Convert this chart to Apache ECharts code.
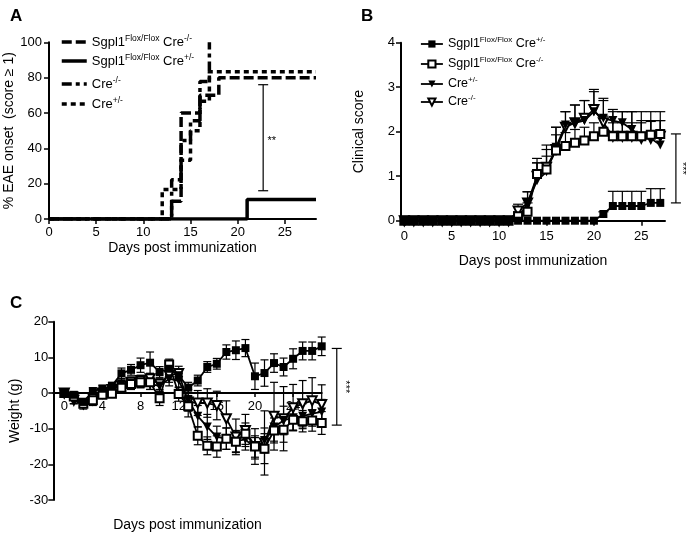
<!DOCTYPE html>
<html><head><meta charset="utf-8">
<script src="https://cdn.jsdelivr.net/npm/echarts@6/dist/echarts.min.js"></script>
<style>html,body{margin:0;padding:0;background:#fff}#chart{width:686px;height:536px}</style>
</head><body><div id="chart"></div>
<script>
const FONT = 'Liberation Sans, Arial, sans-serif';

// ---------- Panel A: % EAE onset (step curves) ----------
const aDaysSgNeg = [0, 13, 14, 16, 18, 28.3];
const aPctSgNeg  = [0, 10, 60, 70, 80, 80];
const aDaysSgPos = [0, 21, 28.3];
const aPctSgPos  = [0, 11.1, 11.1];
const aDaysCreNeg = [0, 13, 14, 15, 16, 17];
const aPctCreNeg  = [0, 22.2, 44.4, 55.6, 77.8, 100];
const aDaysCrePos = [0, 12, 14, 15, 16, 17, 28.3];
const aPctCrePos  = [0, 16.7, 33.3, 50, 66.7, 83.3, 83.3];
const aTicksX = [0, 5, 10, 15, 20, 25];
const aSig = [22.7, 16, 76];
const aSigLabel = '**';

// ---------- Panel B: clinical score ----------
const bDays = [0,1,2,3,4,5,6,7,8,9,10,11,12,13,14,15,16,17,18,19,20,21,22,23,24,25,26,27];
const bSgPos    = [0,0,0,0,0,0,0,0,0,0,0,0,0,0,0,0,0,0,0,0,0,0.15,0.33,0.33,0.33,0.33,0.4,0.4];
const bSgPosErr = [0,0,0,0,0,0,0,0,0,0,0,0,0,0,0,0,0,0,0,0,0,0.05,0.33,0.33,0.33,0.33,0.32,0.32];
const bSgNeg    = [0,0,0,0,0,0,0,0,0,0,0,0,0.1,0.2,1.05,1.15,1.58,1.68,1.75,1.8,1.9,2.0,1.9,1.9,1.9,1.9,1.93,1.95];
const bSgNegErr = [0,0,0,0,0,0,0,0,0,0,0,0,0.1,0.2,0.25,0.3,0.35,0.3,0.3,0.3,0.3,0.35,0.3,0.3,0.3,0.3,0.3,0.3];
const bCrePos    = [0,0,0,0,0,0,0,0,0,0,0,0,0.05,0.4,0.9,1.1,1.65,2.15,2.2,2.25,2.45,2.3,2.25,2.2,2.05,1.9,1.85,1.7];
const bCrePosErr = [0,0,0,0,0,0,0,0,0,0,0,0,0.1,0.25,0.4,0.5,0.45,0.3,0.4,0.45,0.45,0.45,0.25,0.25,0.4,0.35,0.4,0.55];
const bCreNeg    = [0,0,0,0,0,0,0,0,0,0,0,0,0.22,0.4,1.0,1.2,1.6,2.1,2.2,2.3,2.5,2.2,1.9,1.9,1.9,1.85,1.85,1.9];
const bCreNegErr = [0,0,0,0,0,0,0,0,0,0,0,0,0.15,0.25,0.4,0.5,0.5,0.35,0.4,0.4,0.45,0.5,0.55,0.55,0.55,0.6,0.6,0.55];
const bTicksX = [0, 5, 10, 15, 20, 25];
const bSig = [28.65, 0.4, 1.95];
const bSigLabel = '***';

// ---------- Panel C: weight ----------
const cDays = [0,1,2,3,4,5,6,7,8,9,10,11,12,13,14,15,16,17,18,19,20,21,22,23,24,25,26,27];
const cSgPos    = [0,-0.5,-2.5,0.5,1.2,2,5.5,6.5,7.8,8.5,5.9,6.8,5,1.5,3.5,7.3,8.2,11.5,12,12.6,4.7,5.6,8.4,7.3,9.6,11.8,11.8,13.1];
const cSgPosErr = [0.5,0.8,1,1,1,1,1.5,1.5,2,3,1.5,1.5,1.5,1.5,1.5,1.5,1.5,2,2.6,2.4,3.7,3.7,2.6,2.5,2.8,2.5,2.5,2.6];
const cSgNeg    = [0,-1,-3,-2,-0.5,-0.2,1.5,2.5,3,3,-1.5,8,-0.3,-3.7,-12,-14.8,-15,-12.8,-13.7,-11.4,-15,-15.6,-10.5,-10.3,-7.5,-7.9,-7.7,-8.4];
const cSgNegErr = [0.5,1,1,1,1,1,1.5,1.5,1.5,2,2,1.5,2,3,2.5,2.5,3,3,3,3,3,4.2,3.5,3.5,3,3,3,3.2];
const cCrePos    = [0,-2,-3.5,-2.5,0,1,2.5,2.5,3,2.5,2,4,3.5,-2,-6.5,-9.5,-12.3,-12.8,-13.5,-13,-15.5,-13.3,-9.5,-7.7,-6.9,-6.5,-5.8,-5.3];
const cCrePosErr = [0.5,1,1,1,1,1,1.5,1.5,1.5,1.5,1.5,2,2,3,3,3.5,3,3,3,3,3,3.5,4,4,3.5,3.5,3.5,3.5];
const cCreNeg    = [0,-2,-3,-1.5,0,1,2,3,3.5,4,2.5,5,5.5,-2.5,-2.8,-2.8,-3.5,-7.2,-12.3,-10.5,-15,-14,-6.5,-7.2,-4.1,-3,-2.2,-3.2];
const cCreNegErr = [0.5,1,1,1,1,1,1.5,1.5,1.5,1.5,1.5,2,2,2.5,3.5,4,4,5,5,4.5,5,9,9.5,9,6.5,6.5,6.5,5.5];
const cTicksX = [0, 4, 8, 12, 16, 20, 24];
const cSig = [28.58, -9, 12.5];
const cSigLabel = '***';

// ---------- legend labels ----------
const LEG_TEXT = {
  aSgNeg:  '{m|Sgpl1}{s|Flox/Flox}{m| Cre}{s|-/-}',
  aSgPos:  '{m|Sgpl1}{s|Flox/Flox}{m| Cre}{s|+/-}',
  aCreNeg: '{m|Cre}{s|-/-}',
  aCrePos: '{m|Cre}{s|+/-}',
  bSgPos:  '{m|Sgpl1}{s|Flox/Flox}{m| Cre}{s|+/-}',
  bSgNeg:  '{m|Sgpl1}{s|Flox/Flox}{m| Cre}{s|-/-}',
  bCrePos: '{m|Cre}{s|+/-}',
  bCreNeg: '{m|Cre}{s|-/-}'
};

const zip = (xs, ys) => xs.map((x, i) => [x, ys[i]]);
const zip3 = (xs, ys, es) => xs.map((x, i) => [x, ys[i], es[i]]);

function errRender(both, capHalf) {
  return function (params, api) {
    const x = api.value(0), y = api.value(1), e = api.value(2);
    if (!(e > 0)) return null;
    const top = api.coord([x, y + e]);
    const bot = api.coord([x, both ? y - e : y]);
    const st = { stroke: '#000', lineWidth: 1.2 };
    const kids = [
      { type: 'line', shape: { x1: top[0], y1: top[1], x2: bot[0], y2: bot[1] }, style: st },
      { type: 'line', shape: { x1: top[0] - capHalf, y1: top[1], x2: top[0] + capHalf, y2: top[1] }, style: st }
    ];
    if (both) kids.push({ type: 'line', shape: { x1: bot[0] - capHalf, y1: bot[1], x2: bot[0] + capHalf, y2: bot[1] }, style: st });
    return { type: 'group', children: kids };
  };
}

function sigRender(label, rotate, offset) {
  return function (params, api) {
    const x = api.value(0), lo = api.value(1), hi = api.value(2);
    const t = api.coord([x, hi]), b = api.coord([x, lo]);
    const st = { stroke: '#000', lineWidth: 1.2 };
    return { type: 'group', children: [
      { type: 'line', shape: { x1: t[0], y1: t[1], x2: b[0], y2: b[1] }, style: st },
      { type: 'line', shape: { x1: t[0] - 5, y1: t[1], x2: t[0] + 5, y2: t[1] }, style: st },
      { type: 'line', shape: { x1: b[0] - 5, y1: b[1], x2: b[0] + 5, y2: b[1] }, style: st },
      { type: 'text', x: t[0] + offset, y: (t[1] + b[1]) / 2 + (rotate ? 0 : 3), rotation: rotate ? -Math.PI / 2 : 0,
        style: { text: label, fill: '#000', font: '11px ' + FONT, align: 'center', verticalAlign: 'middle' } }
    ]};
  };
}

function xAxisBase(grid, min, max, ticks, nameGap, margin, tickLen) {
  return {
    type: 'value', gridIndex: grid, min: min, max: max,
    axisLine: { show: true, onZero: false, lineStyle: { color: '#000', width: 2 } },
    axisTick: { show: true, length: tickLen, customValues: ticks, lineStyle: { color: '#000', width: 1.5 } },
    axisLabel: { customValues: ticks, color: '#000', fontSize: 13, fontFamily: FONT, margin: margin },
    splitLine: { show: false },
    name: 'Days post immunization', nameLocation: 'middle', nameGap: nameGap,
    nameTextStyle: { color: '#000', fontSize: 14, fontFamily: FONT }
  };
}
function yAxisBase(grid, min, max, interval, name, nameGap, margin, fs) {
  return {
    type: 'value', gridIndex: grid, min: min, max: max, interval: interval,
    axisLine: { show: true, onZero: false, lineStyle: { color: '#000', width: 2 } },
    axisTick: { show: true, length: 5, lineStyle: { color: '#000', width: 1.5 } },
    axisLabel: { color: '#000', fontSize: fs, fontFamily: FONT, margin: margin },
    splitLine: { show: false },
    name: name, nameLocation: 'middle', nameGap: nameGap,
    nameTextStyle: { color: '#000', fontSize: 14, fontFamily: FONT }
  };
}

function legendRow(name, left, top, itemWidth, itemHeight, mainFs, supFs, hideSymbol) {
  const o = {
    data: [name], left: left, top: top, orient: 'horizontal', padding: 0,
    itemWidth: itemWidth, itemHeight: itemHeight, selectedMode: false,
    formatter: n => LEG_TEXT[n],
    lineStyle: { width: 'inherit' },
    textStyle: { color: '#000', fontFamily: FONT, rich: {
      m: { fontSize: mainFs, lineHeight: 16, fontFamily: FONT, color: '#000' },
      s: { fontSize: supFs, verticalAlign: 'top', fontFamily: FONT, color: '#000' }
    }}
  };
  if (hideSymbol) o.itemStyle = { opacity: 0 };
  return o;
}

const lineCommon = { type: 'line', animation: false, emphasis: { disabled: true }, color: '#000' };

const chart = echarts.init(document.getElementById('chart'), null, { renderer: 'canvas' });
chart.setOption({
  animation: false,
  backgroundColor: '#fff',
  textStyle: { fontFamily: FONT },
  title: [
    { text: 'A', left: 5, top: 3, textStyle: { fontSize: 17, fontWeight: 'bold', color: '#000', fontFamily: FONT } },
    { text: 'B', left: 356, top: 3, textStyle: { fontSize: 17, fontWeight: 'bold', color: '#000', fontFamily: FONT } },
    { text: 'C', left: 5, top: 290, textStyle: { fontSize: 17, fontWeight: 'bold', color: '#000', fontFamily: FONT } }
  ],
  legend: [
    legendRow('aSgNeg', 60, 34, 25, 10, 13, 8.5, true),
    legendRow('aSgPos', 60, 53, 25, 10, 13, 8.5, true),
    legendRow('aCreNeg', 60, 76, 25, 10, 13, 8.5, true),
    legendRow('aCrePos', 60, 96, 25, 10, 13, 8.5, true),
    legendRow('bSgPos', 420, 36, 22, 9, 12.5, 8, false),
    legendRow('bSgNeg', 420, 56, 22, 9, 12.5, 8, false),
    legendRow('bCrePos', 420, 76, 22, 9, 12.5, 8, false),
    legendRow('bCreNeg', 420, 94, 22, 9, 12.5, 8, false)
  ],
  grid: [
    { left: 49, top: 42.3, width: 267, height: 176.7, outerBoundsMode: 'none', containLabel: false },
    { left: 401, top: 42.7, width: 264, height: 178, outerBoundsMode: 'none', containLabel: false },
    { left: 53.3, top: 321.7, width: 268.4, height: 178.3, outerBoundsMode: 'none', containLabel: false }
  ],
  xAxis: [
    xAxisBase(0, 0, 28.3, aTicksX, 22, 7, 5),
    xAxisBase(1, -0.35, 27.5, bTicksX, 33, 9, 5),
    // panel C: the day axis is drawn across the zero-weight line (grid bottom is -30, zero lies 107 px above it)
    Object.assign(xAxisBase(2, -1.15, 27, cTicksX, 125, 7, 4), { offset: -107 })
  ],
  yAxis: [
    yAxisBase(0, 0, 100, 20, '% EAE onset  (score \u2265 1)', 33, 7, 13),
    yAxisBase(1, 0, 4, 1, 'Clinical score', 35, 6, 13),
    yAxisBase(2, -30, 20, 10, 'Weight (g)', 31, 5, 13)
  ],
  series: [
    // ----- A -----
    Object.assign({}, lineCommon, { name: 'aSgPos', xAxisIndex: 0, yAxisIndex: 0, step: 'end', symbol: 'none',
      data: zip(aDaysSgPos, aPctSgPos), lineStyle: { color: '#000', width: 3.5, type: 'solid' } }),
    Object.assign({}, lineCommon, { name: 'aSgNeg', xAxisIndex: 0, yAxisIndex: 0, step: 'end', symbol: 'none',
      data: zip(aDaysSgNeg, aPctSgNeg), lineStyle: { color: '#000', width: 3.5, type: [10, 4] } }),
    Object.assign({}, lineCommon, { name: 'aCreNeg', xAxisIndex: 0, yAxisIndex: 0, step: 'end', symbol: 'none',
      data: zip(aDaysCreNeg, aPctCreNeg), lineStyle: { color: '#000', width: 3.5, type: [10, 4, 4, 4] } }),
    Object.assign({}, lineCommon, { name: 'aCrePos', xAxisIndex: 0, yAxisIndex: 0, step: 'end', symbol: 'none',
      data: zip(aDaysCrePos, aPctCrePos), lineStyle: { color: '#000', width: 3.5, type: [5, 4] } }),
    { type: 'custom', xAxisIndex: 0, yAxisIndex: 0, data: [aSig], encode: { x: 0, y: [1, 2] },
      renderItem: sigRender(aSigLabel, false, 8.5), silent: true, z: 3 },

    // ----- B -----
    { type: 'custom', xAxisIndex: 1, yAxisIndex: 1, data: zip3(bDays, bCreNeg, bCreNegErr), encode: { x: 0, y: 1 }, renderItem: errRender(false, 5), silent: true, z: 1 },
    { type: 'custom', xAxisIndex: 1, yAxisIndex: 1, data: zip3(bDays, bCrePos, bCrePosErr), encode: { x: 0, y: 1 }, renderItem: errRender(false, 5), silent: true, z: 1 },
    { type: 'custom', xAxisIndex: 1, yAxisIndex: 1, data: zip3(bDays, bSgNeg, bSgNegErr), encode: { x: 0, y: 1 }, renderItem: errRender(false, 5), silent: true, z: 1 },
    { type: 'custom', xAxisIndex: 1, yAxisIndex: 1, data: zip3(bDays, bSgPos, bSgPosErr), encode: { x: 0, y: 1 }, renderItem: errRender(false, 5), silent: true, z: 1 },
    Object.assign({}, lineCommon, { name: 'bCreNeg', xAxisIndex: 1, yAxisIndex: 1, symbol: 'emptyTriangle', symbolRotate: 180, symbolSize: 9,
      data: zip(bDays, bCreNeg), lineStyle: { color: '#000', width: 1.8 }, itemStyle: { color: '#000', borderWidth: 1.5 } }),
    Object.assign({}, lineCommon, { name: 'bCrePos', xAxisIndex: 1, yAxisIndex: 1, symbol: 'triangle', symbolRotate: 180, symbolSize: 9,
      data: zip(bDays, bCrePos), lineStyle: { color: '#000', width: 1.8 }, itemStyle: { color: '#000' } }),
    Object.assign({}, lineCommon, { name: 'bSgNeg', xAxisIndex: 1, yAxisIndex: 1, symbol: 'emptyRect', symbolSize: 8,
      data: zip(bDays, bSgNeg), lineStyle: { color: '#000', width: 1.8 }, itemStyle: { color: '#000', borderWidth: 1.3 } }),
    Object.assign({}, lineCommon, { name: 'bSgPos', xAxisIndex: 1, yAxisIndex: 1, symbol: 'rect', symbolSize: 8,
      data: zip(bDays, bSgPos), lineStyle: { color: '#000', width: 1.8 }, itemStyle: { color: '#000' } }),
    { type: 'custom', xAxisIndex: 1, yAxisIndex: 1, data: [bSig], encode: { x: 0, y: [1, 2] },
      renderItem: sigRender(bSigLabel, true, 6), silent: true, z: 3 },

    // ----- C -----
    { type: 'custom', xAxisIndex: 2, yAxisIndex: 2, data: zip3(cDays, cCreNeg, cCreNegErr), encode: { x: 0, y: 1 }, renderItem: errRender(true, 4), silent: true, z: 1 },
    { type: 'custom', xAxisIndex: 2, yAxisIndex: 2, data: zip3(cDays, cCrePos, cCrePosErr), encode: { x: 0, y: 1 }, renderItem: errRender(true, 4), silent: true, z: 1 },
    { type: 'custom', xAxisIndex: 2, yAxisIndex: 2, data: zip3(cDays, cSgNeg, cSgNegErr), encode: { x: 0, y: 1 }, renderItem: errRender(true, 4), silent: true, z: 1 },
    { type: 'custom', xAxisIndex: 2, yAxisIndex: 2, data: zip3(cDays, cSgPos, cSgPosErr), encode: { x: 0, y: 1 }, renderItem: errRender(true, 4), silent: true, z: 1 },
    Object.assign({}, lineCommon, { name: 'cCreNeg', xAxisIndex: 2, yAxisIndex: 2, symbol: 'emptyTriangle', symbolRotate: 180, symbolSize: 9,
      data: zip(cDays, cCreNeg), lineStyle: { color: '#000', width: 1.8 }, itemStyle: { color: '#000', borderWidth: 1.3 } }),
    Object.assign({}, lineCommon, { name: 'cCrePos', xAxisIndex: 2, yAxisIndex: 2, symbol: 'triangle', symbolRotate: 180, symbolSize: 9,
      data: zip(cDays, cCrePos), lineStyle: { color: '#000', width: 1.8 }, itemStyle: { color: '#000' } }),
    Object.assign({}, lineCommon, { name: 'cSgNeg', xAxisIndex: 2, yAxisIndex: 2, symbol: 'emptyRect', symbolSize: 8,
      data: zip(cDays, cSgNeg), lineStyle: { color: '#000', width: 1.8 }, itemStyle: { color: '#000', borderWidth: 1.3 } }),
    Object.assign({}, lineCommon, { name: 'cSgPos', xAxisIndex: 2, yAxisIndex: 2, symbol: 'rect', symbolSize: 8,
      data: zip(cDays, cSgPos), lineStyle: { color: '#000', width: 1.8 }, itemStyle: { color: '#000' } }),
    { type: 'custom', xAxisIndex: 2, yAxisIndex: 2, data: [cSig], encode: { x: 0, y: [1, 2] },
      renderItem: sigRender(cSigLabel, true, 8), silent: true, z: 3 }
  ]
});
</script></body></html>
